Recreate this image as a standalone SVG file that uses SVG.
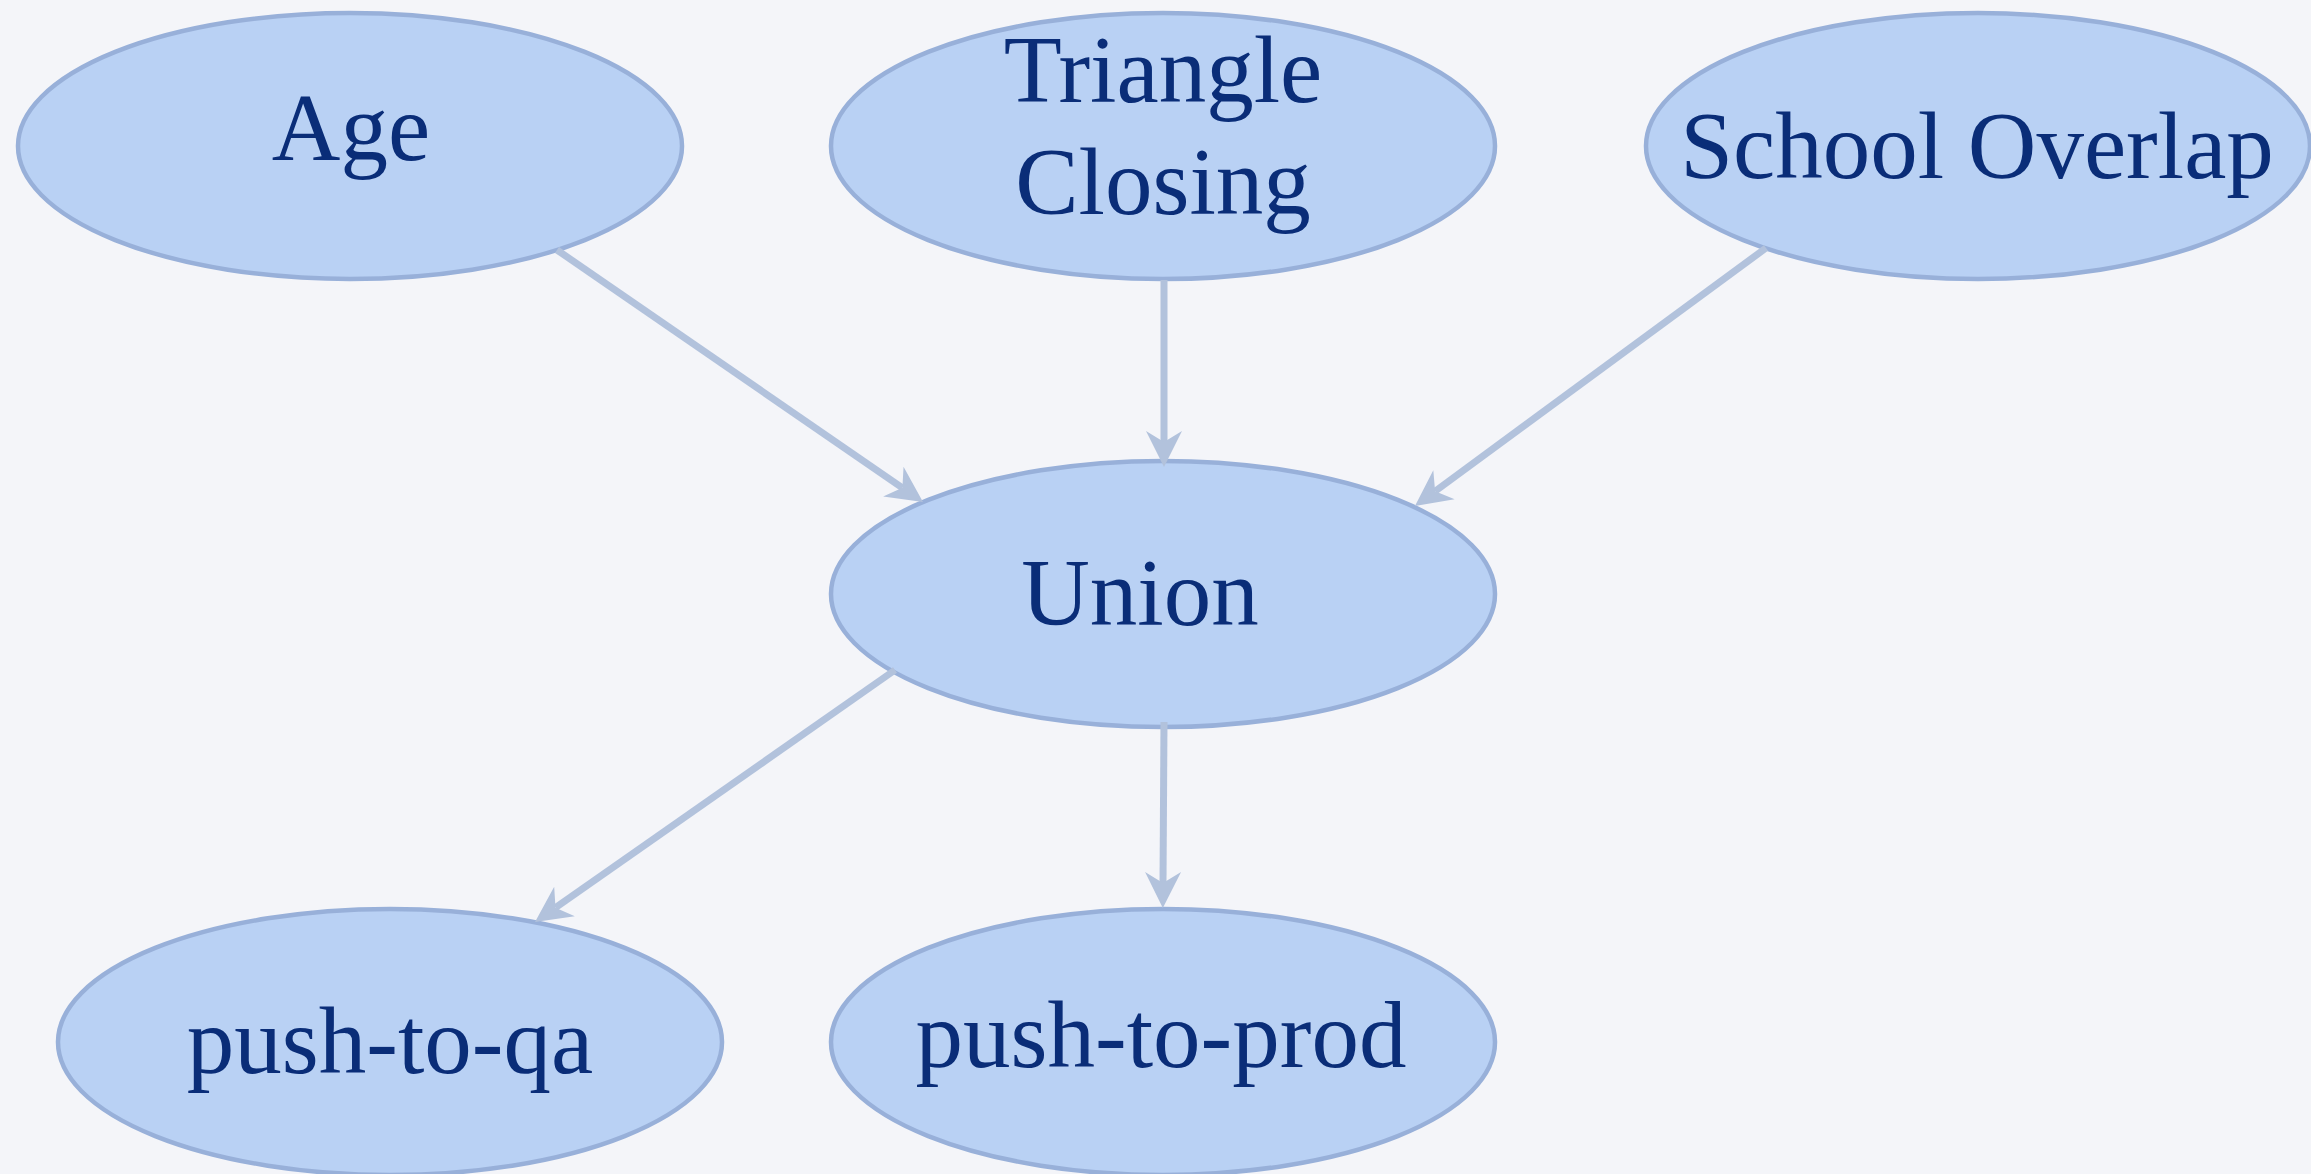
<svg xmlns="http://www.w3.org/2000/svg" width="2311" height="1174" viewBox="0 0 2311 1174">
<style>
.node ellipse { fill: #b9d1f4; stroke: #98b0d9; stroke-width: 4.5; }
.node text { font-family: "Liberation Serif", "Times New Roman", serif; font-size: 95px; fill: #0a2d78; text-anchor: middle; }
.edge { stroke: #b2c2dc; stroke-width: 7; fill: none; marker-end: url(#arrow); }
</style>
<defs>
<marker id="arrow" markerUnits="userSpaceOnUse" viewBox="-14 -22 44 44" refX="0" refY="0" markerWidth="44" markerHeight="44" orient="auto" overflow="visible">
<path d="M25,0 L-11,-18 L0,0 L-11,18 Z" fill="#b2c2dc"/>
</marker>
</defs>
<rect width="2311" height="1174" fill="#f4f5f9"/>
<g id="age" class="node">
<ellipse cx="350" cy="146" rx="332" ry="133"/>
<text x="351" y="160">Age</text>
</g>
<g id="triangle-closing" class="node">
<ellipse cx="1163" cy="146" rx="332" ry="133"/>
<text x="1163" y="102">Triangle</text>
<text x="1163" y="214">Closing</text>
</g>
<g id="school-overlap" class="node">
<ellipse cx="1978" cy="146" rx="332" ry="133"/>
<text x="1977" y="178">School Overlap</text>
</g>
<g id="union" class="node">
<ellipse cx="1163" cy="594" rx="332" ry="133"/>
<text x="1140" y="625">Union</text>
</g>
<g id="push-to-qa" class="node">
<ellipse cx="390" cy="1042" rx="332" ry="133"/>
<text x="390" y="1073">push-to-qa</text>
</g>
<g id="push-to-prod" class="node">
<ellipse cx="1163" cy="1042" rx="332" ry="133"/>
<text x="1161" y="1067">push-to-prod</text>
</g>
<g id="connectors">
<line class="edge" x1="557" y1="250" x2="902.4" y2="487.8"/>
<line class="edge" x1="1164" y1="280" x2="1164" y2="442"/>
<line class="edge" x1="1766" y1="248" x2="1435.1" y2="491.2"/>
<line class="edge" x1="895" y1="670" x2="555.5" y2="907.7"/>
<line class="edge" x1="1164" y1="722" x2="1163" y2="883"/>
</g>
</svg>
